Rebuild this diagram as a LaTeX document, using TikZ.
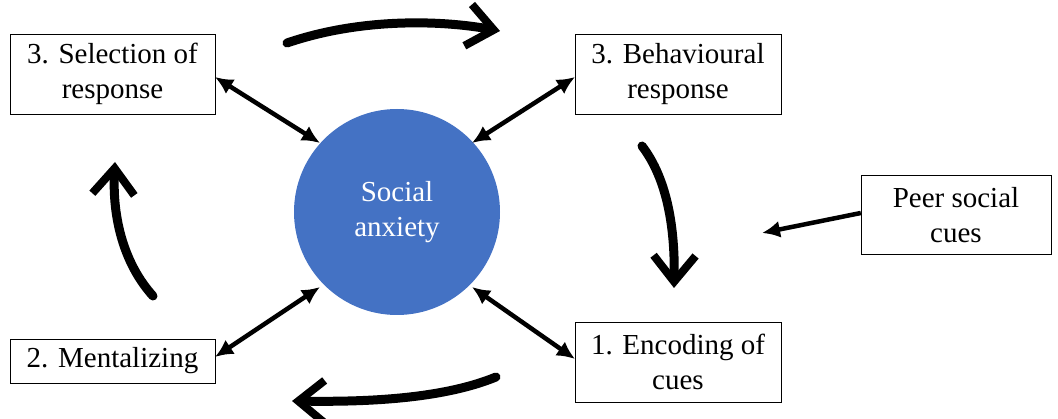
\documentclass[tikz,border=0pt]{standalone}
\usepackage{fontspec}
\setmainfont{Liberation Serif}
\usetikzlibrary{arrows.meta}
\definecolor{anxblue}{RGB}{68,114,196}
\begin{document}
\begin{tikzpicture}[x=1pt,y=-1pt,
    stagebox/.style={draw,thin,align=center,inner sep=0pt,font=\fontsize{29}{35}\selectfont},
    link/.style={line width=4.5pt,{Latex[length=18pt,width=17pt]}-{Latex[length=18pt,width=17pt]}},
    cycle/.style={line width=9pt,line cap=round,-{Straight Barb[length=26pt,width=42pt,line width=8pt]}}]
    \useasboundingbox (0,0) rectangle (1058,419);
    % Boxes
    \node[stagebox,minimum width=205pt,minimum height=80pt] (sel) at (112.5,74) {3. Selection of\\response};
    \node[stagebox,minimum width=206pt,minimum height=80pt] (beh) at (678,74) {3. Behavioural\\response};
    \node[stagebox,minimum width=205pt,minimum height=44pt] (ment) at (112.5,361) {2. Mentalizing};
    \node[stagebox,minimum width=206pt,minimum height=80pt] (enc) at (678,362) {1. Encoding of\\cues};
    \node[stagebox,minimum width=190pt,minimum height=79pt] (peer) at (956,215) {Peer social\\cues};
    % Centre
    \node[circle,fill=anxblue,minimum size=206pt,inner sep=0pt,align=center,text=white,
          font=\fontsize{29}{35}\selectfont] (anx) at (397,212) {Social\\anxiety};
    % Links
    \coordinate (s1) at (320,143);
    \coordinate (b1) at (472,143);
    \coordinate (m1) at (320,287);
    \coordinate (e1) at (472,287);
    \coordinate (p1) at (762,233);
    \draw[link] (215,77) -- (s1);
    \draw[link] (575,77) -- (b1);
    \draw[link] (215,357) -- (m1);
    \draw[link] (575,359) -- (e1);
    \draw[line width=4.5pt,-{Latex[length=18pt,width=17pt]}] (peer.west) ++(0,-2) -- (p1);
    % Cycle
    \draw[cycle] (287,43) .. controls (360,18) and (440,20) .. (500,31);
    \draw[cycle] (642,146) .. controls (668,180) and (675,230) .. (674,288);
    \draw[cycle] (496,377) .. controls (440,400) and (360,402) .. (292,401);
    \draw[cycle] (153,296) .. controls (125,265) and (112,220) .. (115,162);
\end{tikzpicture}
\end{document}
